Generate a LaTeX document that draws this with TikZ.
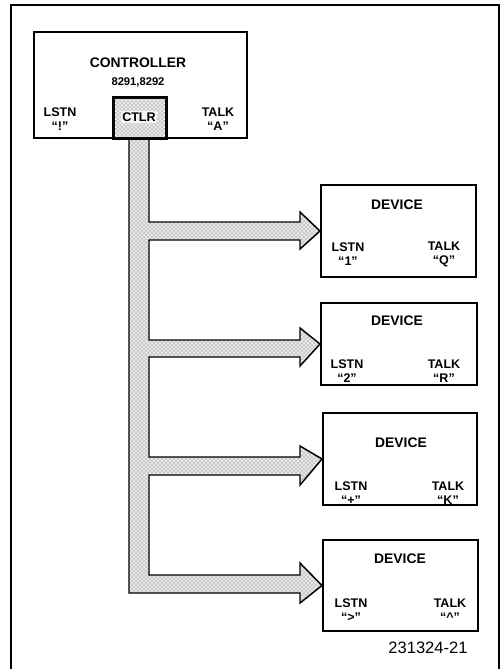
\documentclass[tikz,border=0pt]{standalone}
\usepackage{fontspec}
\setmainfont{Liberation Sans}
\usetikzlibrary{patterns}
\begin{document}
\begin{tikzpicture}[x=0.75pt,y=-0.75pt,
  box/.style={draw, line width=1.5pt, fill=white, inner sep=0pt, anchor=north west},
  title/.style={font=\bfseries\fontsize{10.4}{11}\selectfont, inner sep=0pt},
  small/.style={font=\bfseries\fontsize{8.4}{9}\selectfont, inner sep=0pt},
  lbl/.style={font=\bfseries\fontsize{9.4}{10.5}\selectfont, align=center, inner sep=0pt},
  buspat/.style={pattern=crosshatch dots, pattern color=black!60}
]
\useasboundingbox (0,0) rectangle (500,669);
% frame
\draw[line width=0.9pt] (11,669) -- (11,5) -- (499,5) -- (499,669);

% controller
\node[box, minimum width=213*0.75pt, minimum height=106*0.75pt] (ctrl) at (33,31) {};
\node[title] (ctrlname) at (138,63) {CONTROLLER};
\node[small] (ctrlnum) at (138,82) {8291,8292};
\node[lbl] (ctrllstn) at (60,119) {LSTN\\“!”};
\node[lbl] (ctrltalk) at (218,119) {TALK\\“A”};

% devices
\node[box, minimum width=155*0.75pt, minimum height=92*0.75pt] (dev1) at (320,184) {};
\node[box, minimum width=156*0.75pt, minimum height=82*0.75pt] (dev2) at (320,302) {};
\node[box, minimum width=154*0.75pt, minimum height=92*0.75pt] (dev3) at (322,412) {};
\node[box, minimum width=155*0.75pt, minimum height=91*0.75pt] (dev4) at (322,539) {};

\node[title] (d1name) at (397,205) {DEVICE};
\node[lbl] (d1l) at (348,254) {LSTN\\“1”};
\node[lbl] (d1t) at (444,254) {TALK\\“Q”};

\node[title] (d2name) at (397,321) {DEVICE};
\node[lbl] (d2l) at (347,371) {LSTN\\“2”};
\node[lbl] (d2t) at (444,371) {TALK\\“R”};

\node[title] (d3name) at (401,443) {DEVICE};
\node[lbl] (d3l) at (351,493) {LSTN\\“+”};
\node[lbl] (d3t) at (448,493) {TALK\\“K”};

\node[title] (d4name) at (400,559) {DEVICE};
\node[lbl] (d4l) at (351,610) {LSTN\\“>”};
\node[lbl] (d4t) at (450,610) {TALK\\“\textasciicircum”};

\node[font=\fontsize{12.4}{13}\selectfont, inner sep=0pt] (fig) at (428,648) {231324-21};

% bus
\coordinate (t1) at (dev1.west);
\coordinate (t2) at (dev2.west);
\coordinate (t3) at (dev3.west);
\coordinate (t4) at (dev4.west);
\def\buspath{(129,137) -- (129,593) -- (300,593) -- (300,603) -- (t4)
  -- (300,563) -- (300,575) -- (149,575) -- (149,475) -- (300,475) -- (300,485)
  -- (t3) -- (300,446) -- (300,457) -- (149,457) -- (149,357) -- (300,357)
  -- (300,366) -- (t2) -- (300,328) -- (300,340) -- (149,340) -- (149,240)
  -- (300,240) -- (300,249) -- (t1) -- (300,212) -- (300,222) -- (149,222)
  -- (149,137) -- cycle}
\fill[gray!18] \buspath;
\fill[buspat] \buspath;
\draw[line width=1.1pt, line join=miter] \buspath;

% CTLR box
\node[box, fill=gray!18, minimum width=52*0.75pt, minimum height=40*0.75pt] (ctlr) at (113,97) {};
\fill[buspat] (ctlr.south west) rectangle (ctlr.north east);
\draw[line width=1.5pt] (ctlr.south west) rectangle (ctlr.north east);
\node[lbl, fill=gray!8, inner sep=1.2pt] (ctlrtext) at (139,117) {CTLR};
\end{tikzpicture}
\end{document}
